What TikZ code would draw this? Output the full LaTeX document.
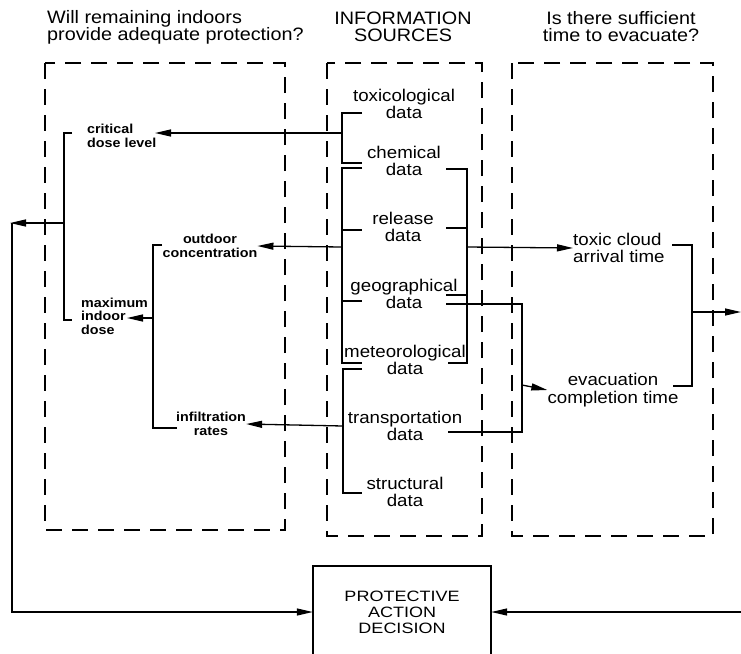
\documentclass[tikz,border=0pt]{standalone}
\usepackage{fontspec}
\setmainfont{Liberation Sans}[FakeStretch=1.1]
\newfontfamily\widecaps{Liberation Sans}[FakeStretch=1.2]
\usetikzlibrary{arrows.meta}

\tikzset{
  panel/.style={line width=2.6pt, dash pattern=on 16pt off 10pt},
  link/.style={line width=1.3pt},
  arr/.style={link, -{Triangle[length=16pt,width=7pt]}},
  title/.style={font=\fontsize{18pt}{17pt}\selectfont, inner sep=0pt},
  source/.style={font=\fontsize{17pt}{17.5pt}\selectfont, align=center, inner sep=0pt},
  small/.style={font=\fontsize{13pt}{13.5pt}\selectfont\bfseries, inner sep=0pt},
}

\begin{document}
\begin{tikzpicture}[x=1pt,y=-1pt]
  \useasboundingbox (0,0) rectangle (741,653);
  \clip (0,0) rectangle (741,653);

  % Headings
  \node[title, anchor=west, align=left] (askstay) at (47,27) {Will remaining indoors\\provide adequate protection?};
  \node[title, align=center] (askinfo) at (403,27) {INFORMATION\\SOURCES};
  \node[title, align=center] (askgo) at (621,27) {Is there sufficient\\time to evacuate?};

  % Dashed panels
  \draw[panel] (45,63) rectangle (285,530);
  \draw[panel] (327,63) rectangle (482,536);
  \draw[panel] (512,63) rectangle (713,536);

  % Information sources
  \node[source] (toxdata) at (404,104) {toxicological\\data};
  \node[source] (chemdata) at (404,161) {chemical\\data};
  \node[source] (reldata) at (403,227) {release\\data};
  \node[source] (geodata) at (404,294) {geographical\\data};
  \node[source] (metdata) at (405,360) {meteorological\\data};
  \node[source] (trandata) at (405,426) {transportation\\data};
  \node[source] (strucdata) at (405,492) {structural\\data};

  % Indoor side
  \node[small, anchor=west, align=left] (critdose) at (87,136) {critical\\dose level};
  \node[small, align=center] (outconc) at (210,246) {outdoor\\concentration};
  \node[small, anchor=west, align=left] (maxdose) at (81,316) {maximum\\indoor\\dose};
  \node[small, align=center] (infrate) at (211,424) {infiltration\\rates};

  % Evacuation side
  \node[source, anchor=west, align=left] (arrival) at (573,248) {toxic cloud\\arrival time};
  \node[source] (evactime) at (613,390) {evacuation\\completion time};

  % Decision
  \node[align=center, inner sep=0pt, minimum width=178pt,
        font=\widecaps\fontsize{15pt}{16pt}\selectfont] (decision) at (402,612) {PROTECTIVE\\ACTION\\DECISION};
  \draw[line width=2.4pt] (313,700) |- (491,566) -- (491,700);

  % Brackets to the left
  \draw[link] (362,113) -- (342,113) -- (342,163) -- (362,163);
  \draw[arr] (342,133) -- (155,133);
  \draw[link] (362,168) -- (342,168) -- (342,363) -- (362,363);
  \draw[link] (342,230) -- (362,230);
  \draw[link] (342,301) -- (362,301);
  \draw[arr] (342,247) -- (outconc.east);
  \draw[link] (362,369) -- (343,369) -- (343,493) -- (362,493);
  \draw[arr] (343,426) -- (infrate.east);

  \draw[link] (162,245) -- (153,245) -- (153,428) -- (177,428);
  \draw[arr] (153,318) -- (127,318);
  \draw[link] (72,133) -- (64,133) -- (64,320) -- (72,320);
  \draw[arr] (64,223) -- (10,223);
  \draw[arr] (12,223) |- (decision.west);

  % Brackets to the right
  \draw[link] (446,169) -- (467,169) -- (467,363) -- (448,363);
  \draw[link] (446,228) -- (467,228);
  \draw[link] (446,295) -- (467,295);
  \draw[arr] (467,247) -- (arrival.west);
  \draw[link] (446,304) -- (522,304) -- (522,432) -- (448,432);
  \draw[arr] (522,385) -- (evactime.west);

  \draw[link] (672,245) -- (692,245) -- (692,386) -- (673,386);
  \draw[arr] (692,312) -- (741,312);
  \draw[arr] (741,612) -- (decision.east);
\end{tikzpicture}
\end{document}
